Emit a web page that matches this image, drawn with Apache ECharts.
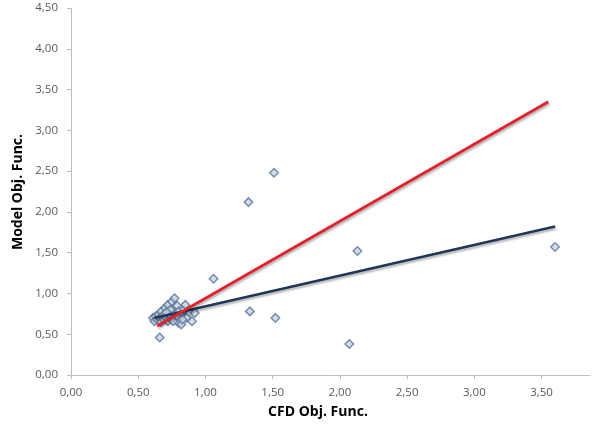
<!DOCTYPE html>
<html>
<head>
<meta charset="utf-8">
<script src="https://cdn.jsdelivr.net/npm/echarts@6/dist/echarts.min.js"></script>
<style>html,body{margin:0;padding:0;background:#fff}#c{width:594px;height:432px}</style>
</head>
<body>
<div id="c"></div>
<script>
const xTitle = 'CFD Obj. Func.';
const yTitle = 'Model Obj. Func.';
const clusterPoints = [
  [0.61,0.70],[0.62,0.66],[0.63,0.72],[0.64,0.68],[0.65,0.74],[0.66,0.70],[0.67,0.65],[0.67,0.78],
  [0.68,0.72],[0.69,0.68],[0.70,0.82],[0.70,0.75],[0.71,0.70],[0.72,0.66],[0.72,0.86],[0.73,0.78],
  [0.74,0.73],[0.75,0.90],[0.75,0.68],[0.76,0.80],[0.77,0.94],[0.77,0.75],[0.78,0.70],[0.79,0.85],
  [0.80,0.64],[0.80,0.78],[0.82,0.62],[0.82,0.73],[0.84,0.80],[0.85,0.86],[0.86,0.70],[0.88,0.77],
  [0.90,0.66],[0.92,0.76],[0.66,0.46],[0.74,0.80],[0.79,0.72],[0.83,0.68],[0.71,0.77],[0.76,0.66]
];
const outlierPoints = [
  [1.06,1.18],[1.32,2.12],[1.51,2.48],[1.33,0.78],[1.52,0.70],[2.13,1.52],[2.07,0.38],[3.60,1.57]
];
const redLine = [[0.64,0.60],[3.55,3.35]];
const blueLine = [[0.62,0.70],[3.60,1.82]];

const fmt = v => v.toFixed(2).replace('.', ',');
const chart = echarts.init(document.getElementById('c'));
chart.setOption({
  animation: false,
  grid: {left: 71, right: 4, top: 8, bottom: 57},
  xAxis: {
    type: 'value', min: 0, max: 3.86, interval: 0.5,
    splitLine: {show: false},
    axisLine: {lineStyle: {color: '#bfbfbf'}},
    axisTick: {show: true, length: 4, lineStyle: {color: '#bfbfbf'}},
    axisLabel: {showMaxLabel: false, formatter: fmt, color: '#595959', fontSize: 11.5, margin: 12, fontFamily: 'Open Sans'}
  },
  yAxis: {
    type: 'value', min: 0, max: 4.5, interval: 0.5,
    splitLine: {show: false},
    axisLine: {show: true, lineStyle: {color: '#bfbfbf'}},
    axisTick: {show: true, length: 4, lineStyle: {color: '#bfbfbf'}},
    axisLabel: {formatter: fmt, color: '#595959', fontSize: 11.5, margin: 13, fontFamily: 'Open Sans'}
  },
  graphic: [
    {type: 'text', x: 318, y: 412, style: {text: xTitle, font: 'bold 14px "Open Sans"', fill: '#000', align: 'center', verticalAlign: 'middle'}},
    {type: 'text', rotation: Math.PI / 2, x: 18, y: 192, style: {text: yTitle, font: 'bold 14px "Open Sans"', fill: '#000', align: 'center', verticalAlign: 'middle'}}
  ],
  series: [
    {type: 'scatter', data: clusterPoints.concat(outlierPoints), symbol: 'diamond', symbolSize: 8.5,
     itemStyle: {color: '#c9d4e4', borderColor: '#5a7599', borderWidth: 1.5}, z: 2},
    {type: 'line', data: blueLine, symbol: 'none', z: 3,
     lineStyle: {color: '#1f3658', width: 2.5, shadowColor: 'rgba(0,0,0,0.3)', shadowBlur: 2, shadowOffsetX: 1, shadowOffsetY: 2}},
    {type: 'line', data: redLine, symbol: 'none', z: 4,
     lineStyle: {color: '#e3202b', width: 2.8, shadowColor: 'rgba(0,0,0,0.3)', shadowBlur: 2, shadowOffsetX: 1, shadowOffsetY: 2}}
  ]
});
</script>
</body>
</html>
